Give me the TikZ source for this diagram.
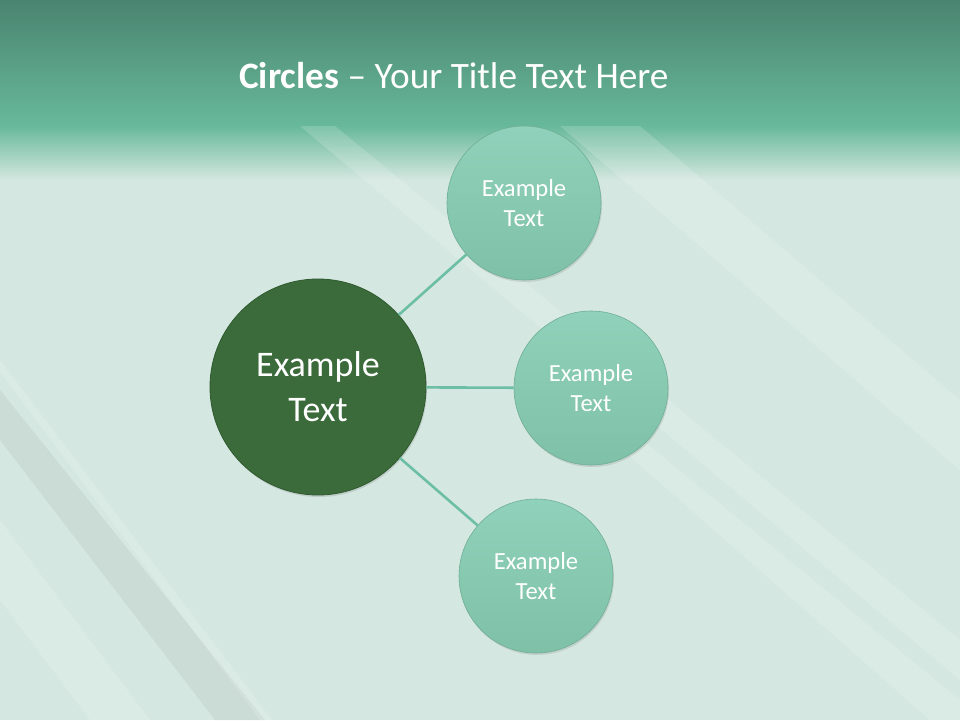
\documentclass[tikz,border=0pt]{standalone}
\usepackage{fontspec}
\setmainfont{Carlito}
\usetikzlibrary{shadows}
\definecolor{bg}{HTML}{D4E7E0}
\definecolor{hdtop}{HTML}{4A8470}
\definecolor{hdbot}{HTML}{68B99B}
\definecolor{bigfill}{HTML}{3B6B3B}
\definecolor{bigrim}{HTML}{2F5A30}
\definecolor{smallfill}{HTML}{87C9B1}
\definecolor{smalltop}{HTML}{8FD1BA}
\definecolor{smallbot}{HTML}{7FC0A8}
\definecolor{smallrim}{HTML}{6FAE97}
\definecolor{linkc}{HTML}{6CBFA5}
\definecolor{greyband}{HTML}{C6D5D0}
\tikzset{
  bigc/.style={circle, minimum size=216pt, inner sep=0pt, fill=bigfill, draw=bigrim, line width=0.8pt,
    text=white, align=center, font=\fontsize{36}{45}\selectfont,
    drop shadow={opacity=0.25, shadow xshift=1pt, shadow yshift=-2pt}},
  smallc/.style={circle, minimum size=154pt, inner sep=0pt, top color=smalltop, bottom color=smallbot,
    draw=smallrim, line width=0.6pt,
    text=white, align=center, font=\fontsize{24.6}{30}\selectfont,
    drop shadow={opacity=0.22, shadow xshift=1pt, shadow yshift=-2pt}},
  link/.style={draw=linkc, line width=2.6pt},
  band/.style={fill=white, opacity=0.16},
  gband/.style={fill=greyband, opacity=0.6}
}
\begin{document}
\begin{tikzpicture}[x=1pt,y=-1pt]
\useasboundingbox (0,0) rectangle (960,720);
\fill[bg] (0,0) rectangle (960,720);
% header
\shade[top color=hdtop, bottom color=hdbot] (0,0) rectangle (960,126);
\shade[top color=hdbot, bottom color=bg] (0,126) rectangle (960,180);
% background stripes
\fill[gband] (0,390) -- (0,440) -- (215,720) -- (265,720) -- cycle;
\fill[band] (0,360) -- (0,372) -- (260,720) -- (272,720) -- cycle;
\fill[band] (0,520) -- (0,600) -- (90,720) -- (150,720) -- cycle;
\fill[band] (300,126) -- (335,126) -- (960,640) -- (960,680) -- cycle;
\fill[band] (560,126) -- (640,126) -- (960,400) -- (960,470) -- cycle;
\fill[band] (600,430) -- (630,430) -- (960,700) -- (960,720) -- (930,720) -- cycle;
% title
\node[anchor=base west, inner sep=0pt, text=white, font=\fontsize{37.3}{40}\selectfont] (title) at (239,88)
  {\textbf{Circles} – Your Title Text Here};
% circles
\node[bigc] (c) at (318,387) {Example\\Text};
\node[smallc] (t) at (524,203) {Example\\Text};
\node[smallc] (m) at (591,388) {Example\\Text};
\node[smallc] (b) at (536,576) {Example\\Text};
% connectors
\draw[link] (c) -- (t);
\draw[link] (c) -- (m);
\draw[link] (c) -- (b);
\end{tikzpicture}
\end{document}
